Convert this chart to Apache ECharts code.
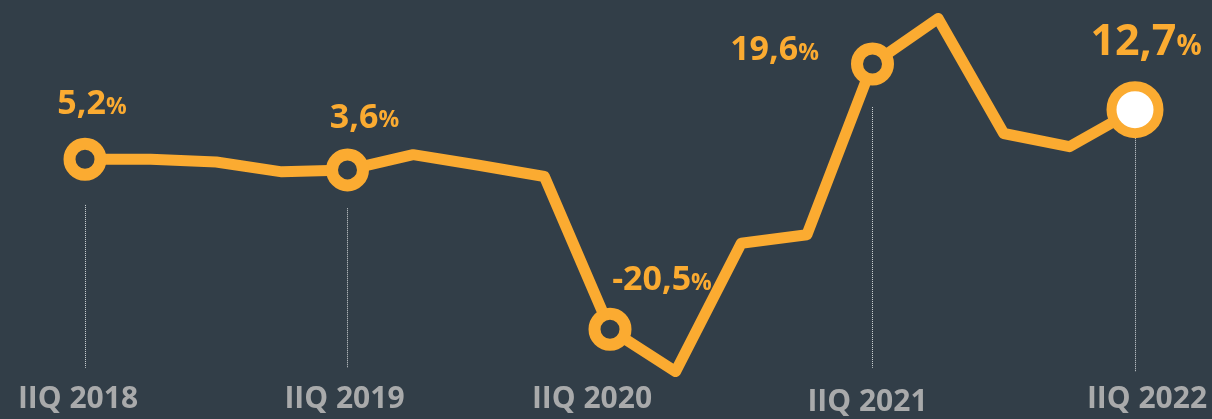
<!DOCTYPE html>
<html lang="es">
<head>
  <meta charset="UTF-8">
  <title>Crecimiento trimestral</title>
  <script src="https://cdn.jsdelivr.net/npm/echarts@6/dist/echarts.min.js"></script>
  <style>
    html, body { margin: 0; padding: 0; background: #323e48; }
    #chart { width: 1212px; height: 419px; }
  </style>
</head>
<body>
<div id="chart"></div>
<script>
  // Trimestres (IIQ 2018 .. IIQ 2022)
  var quarters = [
    'IIQ 2018', 'IIIQ 2018', 'IVQ 2018', 'IQ 2019',
    'IIQ 2019', 'IIIQ 2019', 'IVQ 2019', 'IQ 2020',
    'IIQ 2020', 'IIIQ 2020', 'IVQ 2020', 'IQ 2021',
    'IIQ 2021', 'IIIQ 2021', 'IVQ 2021', 'IQ 2022',
    'IIQ 2022'
  ];
  // Variacion anual (%)
  var growth = [5.2, 5.2, 4.8, 3.3, 3.6, 5.9, 4.3, 2.6, -20.5, -26.9, -7.5, -6.2, 19.6, 26.5, 9.1, 7.1, 12.7];
  // Puntos marcados con etiqueta
  var highlighted = [0, 4, 8, 12, 16];

  var orange = '#fbab31';
  var bg = '#323e48';

  var labelOffsets = { 0: [7, -55], 4: [17, -52], 8: [52, -49], 12: [-98, -14], 16: [11, -67] };
  var axisPads = { 0: [0, 14, 0, 0], 4: [0, 6, 0, 0], 8: [0, 36, 0, 0], 12: [3, 10, 0, 0], 16: [0, 0, 0, 24] };

  function fmt(v) { return v.toFixed(1).replace('.', ','); }

  var seriesData = growth.map(function (v, i) {
    if (highlighted.indexOf(i) < 0) {
      return { value: v, symbol: 'none' };
    }
    var last = i === growth.length - 1;
    return {
      value: v,
      symbol: 'circle',
      symbolSize: last ? 47 : 31,
      itemStyle: {
        color: last ? '#ffffff' : bg,
        borderColor: orange,
        borderWidth: last ? 10 : 12
      },
      label: {
        show: true,
        position: 'inside',
        offset: labelOffsets[i],
        formatter: function (p) {
          return last ? '{b|' + fmt(p.value) + '}{bp|%}' : '{n|' + fmt(p.value) + '}{p|%}';
        },
        rich: {
          n: { fontFamily: 'Open Sans', fontWeight: 'bold', fontSize: 34, color: orange },
          p: { fontFamily: 'Open Sans', fontWeight: 'bold', fontSize: 23, color: orange, padding: [6, 0, 0, 0] },
          b: { fontFamily: 'Open Sans', fontWeight: 'bold', fontSize: 43, color: orange },
          bp: { fontFamily: 'Open Sans', fontWeight: 'bold', fontSize: 28, color: orange, padding: [8, 0, 0, 0] }
        }
      }
    };
  });

  var chart = echarts.init(document.getElementById('chart'));

  var option = {
    backgroundColor: bg,
    animation: false,
    grid: { left: 85, right: 77, top: 8.5, height: 377, containLabel: false, outerBoundsMode: 'none' },
    xAxis: {
      type: 'category',
      data: quarters,
      boundaryGap: false,
      axisLine: { show: false },
      axisTick: { show: false },
      splitLine: { show: false },
      axisLabel: {
        interval: 3,
        margin: -1,
        formatter: function (val, idx) {
          return '{q' + idx + '|' + val + '}';
        },
        rich: (function () {
          var r = {};
          highlighted.forEach(function (i) {
            r['q' + i] = {
              fontFamily: 'Open Sans', fontWeight: 'bold', fontSize: 30,
              color: '#a9aaab', padding: axisPads[i]
            };
          });
          return r;
        })()
      }
    },
    yAxis: {
      type: 'value',
      min: -29,
      max: 28,
      show: false,
      splitLine: { show: false }
    },
    series: [{
      type: 'line',
      data: seriesData,
      z: 3,
      lineStyle: { color: orange, width: 11, cap: 'round', join: 'round' },
      itemStyle: { color: orange },
      markLine: {
        silent: true,
        symbol: 'none',
        label: { show: false },
        lineStyle: { color: '#d0d4d7', width: 1, type: 'dotted' },
        z: 1,
        data: [
          [{ coord: [0, -1.7] }, { coord: [0, -26.3] }],
          [{ coord: [4, -2.2] }, { coord: [4, -26.3] }],
          [{ coord: [12, 13.1] }, { coord: [12, -26.3] }],
          [{ coord: [16, 9.6] }, { coord: [16, -26.9] }]
        ]
      }
    }]
  };

  chart.setOption(option);
</script>
</body>
</html>
